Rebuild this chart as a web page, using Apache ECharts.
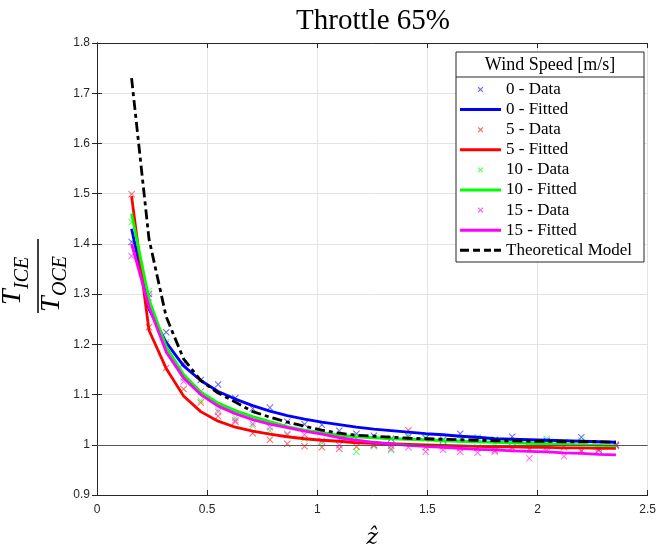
<!DOCTYPE html>
<html>
<head>
<meta charset="utf-8">
<script src="https://cdn.jsdelivr.net/npm/echarts@6/dist/echarts.min.js"></script>
<style>
  html, body { margin: 0; padding: 0; background: #fff; }
  #main { width: 659px; height: 554px; }
</style>
</head>
<body>
<div id="main"></div>
<script>
// z-hat sample points
var zHat = [0.157, 0.236, 0.314, 0.393, 0.471, 0.550, 0.628, 0.707, 0.785, 0.864,
            0.942, 1.021, 1.100, 1.178, 1.257, 1.335, 1.414, 1.492, 1.571, 1.649,
            1.728, 1.806, 1.885, 1.963, 2.042, 2.120, 2.199, 2.278, 2.356];

// measured ratios T_ICE/T_OCE
var data0 = [1.404, 1.300, 1.224, 1.162, 1.129, 1.120, 1.093, 1.072, 1.074, 1.046,
             1.041, 1.040, 1.028, 1.022, 1.018, 1.012, 1.016, 1.013, 1.010, 1.022,
             1.012, 1.010, 1.016, 1.006, 1.008, 1.004, 1.015, 0.990, 1.000];
var data5 = [1.499, 1.234, 1.153, 1.111, 1.084, 1.057, 1.046, 1.023, 1.010, 1.002,
             0.997, 0.995, 0.992, 0.996, 0.999, 0.998, 1.029, 0.995, 0.997, 0.993,
             0.994, 0.989, 0.993, 0.992, 0.996, 0.995, 0.987, 0.994, 0.998];
var data10 = [1.443, 1.306, 1.205, 1.133, 1.088, 1.070, 1.054, 1.038, 1.028, 1.022,
              1.012, 1.004, 1.010, 0.986, 0.997, 0.989, 1.020, 1.015, 1.008, 1.010,
              1.015, 1.003, 1.005, 1.000, 1.012, 1.005, 1.008, 1.000, 0.999];
var data15 = [1.376, 1.293, 1.201, 1.126, 1.106, 1.066, 1.049, 1.042, 1.035, 1.020,
              1.020, 1.008, 0.999, 1.012, 1.000, 0.992, 0.995, 0.986, 0.990, 0.986,
              0.984, 0.986, 0.995, 0.973, 0.989, 0.977, 0.989, 0.988, 0.999];

// fitted curves
var fit0 = [1.430, 1.270, 1.204, 1.157, 1.128, 1.106, 1.091, 1.078, 1.067, 1.058,
            1.051, 1.045, 1.040, 1.035, 1.031, 1.028, 1.025, 1.022, 1.020, 1.017,
            1.015, 1.012, 1.011, 1.010, 1.009, 1.008, 1.007, 1.006, 1.005];
var fit5 = [1.495, 1.228, 1.152, 1.097, 1.066, 1.047, 1.035, 1.027, 1.021, 1.016,
            1.012, 1.009, 1.007, 1.004, 1.003, 1.002, 1.001, 1.000, 0.999, 0.998,
            0.997, 0.996, 0.996, 0.995, 0.995, 0.994, 0.994, 0.993, 0.993];
var fit10 = [1.460, 1.290, 1.195, 1.140, 1.105, 1.083, 1.068, 1.056, 1.046, 1.036,
             1.029, 1.024, 1.019, 1.016, 1.014, 1.012, 1.011, 1.010, 1.008, 1.007,
             1.006, 1.005, 1.004, 1.003, 1.002, 1.001, 1.000, 0.999, 0.998];
var fit15 = [1.400, 1.275, 1.185, 1.133, 1.100, 1.077, 1.062, 1.050, 1.041, 1.034,
             1.027, 1.021, 1.014, 1.009, 1.005, 1.002, 0.999, 0.997, 0.995, 0.993,
             0.991, 0.990, 0.988, 0.987, 0.986, 0.984, 0.983, 0.981, 0.980];
var theory = [1.730, 1.410, 1.255, 1.171, 1.128, 1.103, 1.085, 1.066, 1.055, 1.045,
              1.037, 1.029, 1.023, 1.019, 1.017, 1.015, 1.013, 1.012, 1.011, 1.010,
              1.009, 1.008, 1.008, 1.007, 1.007, 1.006, 1.006, 1.006, 1.005];

var legendNames = ['0 - Data', '0 - Fitted', '5 - Data', '5 - Fitted', '10 - Data',
                   '10 - Fitted', '15 - Data', '15 - Fitted', 'Theoretical Model'];

function pairs(ys) {
    return zHat.map(function (x, i) { return [x, ys[i]]; });
}

var cross = 'path://M0,1L1,0L5,4L9,0L10,1L6,5L10,9L9,10L5,6L1,10L0,9L4,5Z';
// legend icons (kept to aspect inside 41x14)
var crossSmall = 'path://M0,0L0.01,0L0,0.01Z M20,20L19.99,20L20,19.99Z ' +
    'M6,7.2L7.2,6L10,8.8L12.8,6L14,7.2L11.2,10L14,12.8L12.8,14L10,11.2L7.2,14L6,12.8L8.8,10Z';
var solidBar = 'path://M0,0L41,0L41,3L0,3Z';
var dashBar = 'path://M0,0L9,0L9,3L0,3Z M13,0L20,0L20,3L13,3Z M24,0L31,0L31,3L24,3Z M34,0L41,0L41,3L34,3Z';

function dataSeries(name, ys, color) {
    return {
        name: name, type: 'scatter', data: pairs(ys),
        symbol: cross, symbolSize: 7,
        itemStyle: { color: color, opacity: 0.6 },
        silent: true
    };
}
function fitSeries(name, ys, color) {
    return {
        name: name, type: 'line', data: pairs(ys),
        symbol: 'none', smooth: false,
        lineStyle: { color: color, width: 2.8 },
        itemStyle: { color: color },
        silent: true
    };
}

var serif = 'Liberation Serif';
var axisColor = '#262626';

var chart = echarts.init(document.getElementById('main'));
var option = {
    animation: false,
    grid: { left: 97, right: 9, top: 43, bottom: 52 },
    xAxis: [{
        type: 'value', min: 0, max: 2.5, interval: 0.5,
        axisLine: { lineStyle: { color: axisColor } },
        axisTick: { inside: true, length: 5, lineStyle: { color: axisColor } },
        axisLabel: { color: axisColor, fontSize: 12, fontFamily: 'Liberation Sans', margin: 9,
                     formatter: function (v) { return String(v); } },
        splitLine: { show: true, lineStyle: { color: '#e3e3e3' } },
        name: '\u1E91', nameLocation: 'middle', nameGap: 32,
        nameTextStyle: { fontFamily: 'DejaVu Serif', fontStyle: 'italic', fontSize: 22, color: '#000' }
    }, {
        type: 'value', position: 'top', min: 0, max: 2.5, interval: 0.5,
        axisLine: { show: true, lineStyle: { color: axisColor } },
        axisTick: { show: true, inside: true, length: 5, lineStyle: { color: axisColor } },
        axisLabel: { show: false }, splitLine: { show: false }
    }],
    yAxis: [{
        type: 'value', min: 0.9, max: 1.8, interval: 0.1,
        axisLine: { show: true, lineStyle: { color: axisColor } },
        axisTick: { show: true, inside: true, length: 5, lineStyle: { color: axisColor } },
        axisLabel: { color: axisColor, fontSize: 12, fontFamily: 'Liberation Sans', margin: 7,
                     formatter: function (v) { return String(Math.round(v * 10) / 10); } },
        splitLine: { show: true, lineStyle: { color: '#e3e3e3' } }
    }, {
        type: 'value', position: 'right', min: 0.9, max: 1.8, interval: 0.1,
        axisLine: { show: true, lineStyle: { color: axisColor } },
        axisTick: { show: true, inside: true, length: 5, lineStyle: { color: axisColor } },
        axisLabel: { show: false }, splitLine: { show: false }
    }],
    legend: {
        orient: 'vertical', left: 460, top: 81, padding: 0,
        itemWidth: 41, itemHeight: 14, itemGap: 3.1,
        selectedMode: false,
        textStyle: { fontFamily: serif, fontSize: 17, color: '#000' },
        data: legendNames.map(function (n) {
            if (n.indexOf('Data') >= 0) return { name: n, icon: crossSmall };
            if (n.indexOf('Fitted') >= 0) return { name: n, icon: solidBar };
            return { name: n, icon: dashBar };
        })
    },
    graphic: [
        { type: 'rect', z: 3, shape: { x: 456, y: 52, width: 188, height: 210 },
          style: { fill: '#fff', stroke: axisColor, lineWidth: 1 } },
        { type: 'line', z: 3, shape: { x1: 456, y1: 77, x2: 644, y2: 77 },
          style: { stroke: axisColor, lineWidth: 1 } },
        { type: 'text', z: 5, x: 550, y: 65,
          style: { text: 'Wind Speed [m/s]', fontFamily: serif, fontSize: 18, fill: '#000',
                   textAlign: 'center', textVerticalAlign: 'middle' } },
        { type: 'text', x: 373, y: 21,
          style: { text: 'Throttle 65%', fontFamily: serif, fontSize: 29, fill: '#000',
                   textAlign: 'center', textVerticalAlign: 'middle' } },
        { type: 'group', x: 38, y: 276, rotation: Math.PI / 2, children: [
            { type: 'line', shape: { x1: -37, y1: 0, x2: 37, y2: 0 },
              style: { stroke: '#000', lineWidth: 1.5 } },
            { type: 'text', x: -29, y: -11,
              style: { text: 'T', fontFamily: serif, fontStyle: 'italic', fontSize: 28, fill: '#000',
                       textAlign: 'left', textVerticalAlign: 'bottom' } },
            { type: 'text', x: -13, y: -5,
              style: { text: 'ICE', fontFamily: serif, fontStyle: 'italic', fontSize: 20, fill: '#000',
                       textAlign: 'left', textVerticalAlign: 'bottom' } },
            { type: 'text', x: -36, y: 28,
              style: { text: 'T', fontFamily: serif, fontStyle: 'italic', fontSize: 28, fill: '#000',
                       textAlign: 'left', textVerticalAlign: 'bottom' } },
            { type: 'text', x: -20, y: 33,
              style: { text: 'OCE', fontFamily: serif, fontStyle: 'italic', fontSize: 20, fill: '#000',
                       textAlign: 'left', textVerticalAlign: 'bottom' } }
        ] }
    ],
    series: [
        dataSeries('0 - Data', data0, '#0000ff'),
        fitSeries('0 - Fitted', fit0, '#0000ff'),
        dataSeries('5 - Data', data5, '#ff0000'),
        fitSeries('5 - Fitted', fit5, '#ff0000'),
        dataSeries('10 - Data', data10, '#00ff00'),
        fitSeries('10 - Fitted', fit10, '#00ff00'),
        dataSeries('15 - Data', data15, '#ff00ff'),
        fitSeries('15 - Fitted', fit15, '#ff00ff'),
        {
            name: 'Theoretical Model', type: 'line', data: pairs(theory),
            symbol: 'none', z: 3,
            lineStyle: { color: '#000', width: 2.8, type: [10, 4, 4, 4] },
            itemStyle: { color: '#000' },
            silent: true,
            markLine: {
                silent: true, symbol: 'none', label: { show: false },
                lineStyle: { color: '#555', width: 1, type: 'solid' },
                data: [{ yAxis: 1 }]
            }
        }
    ]
};
chart.setOption(option);
</script>
</body>
</html>
